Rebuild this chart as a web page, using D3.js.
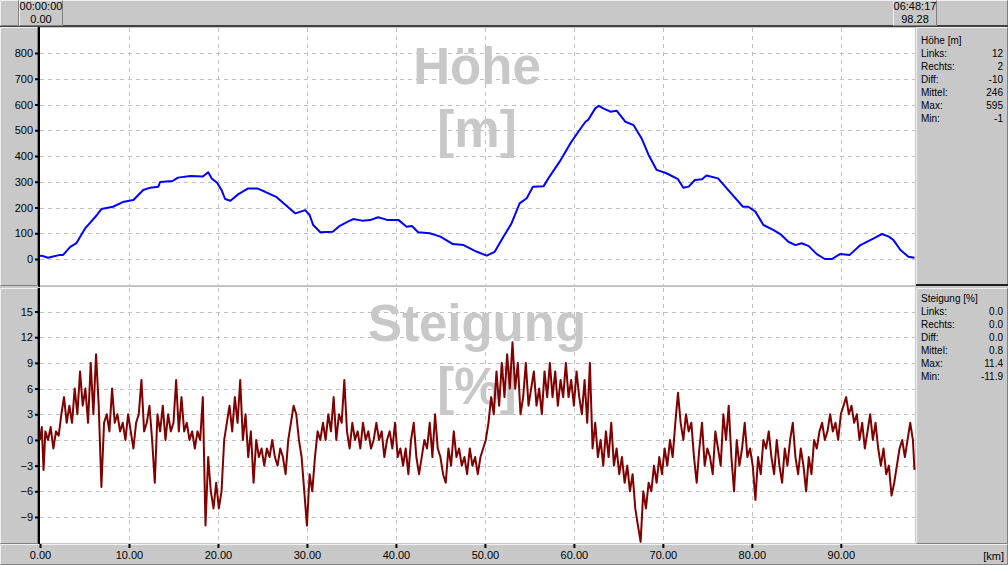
<!DOCTYPE html>
<html><head><meta charset="utf-8">
<script src="https://cdn.jsdelivr.net/npm/d3@7"></script>
<style>
html,body{margin:0;padding:0;background:#c8c8c8;}
svg{display:block;font-family:"Liberation Sans",Arial,sans-serif;}
</style></head><body>
<script>
// ---- data ----
const elevKm = [0,0.19,0.9,2.25,2.6,3.4,4.1,5.1,6.4,6.9,8.2,9.3,10.5,11.6,12.4,13.3,13.5,14.9,15.5,16.9,18.3,18.9,19.3,19.9,20.4,20.8,21.4,22.3,23.4,24.4,25.3,26.6,27.7,28.7,29.8,30.3,30.7,31.5,32.9,33.7,34.6,35.2,36.2,37.1,38.0,39.1,40.3,41.2,41.8,42.5,43.8,45.0,46.4,47.6,49.1,50.2,51.1,52.1,53.0,53.9,54.7,55.4,56.6,57.3,58.4,59.6,60.5,61.3,61.6,62.4,62.8,63.3,64.1,64.8,65.8,66.7,67.6,68.4,69.3,70.4,71.7,72.3,72.9,73.6,74.4,74.9,76.2,77.6,79.0,79.6,80.4,81.3,82.4,83.2,84.1,84.9,85.6,86.4,87.3,88.2,89.0,89.9,91.0,92.2,93.7,94.6,95.4,95.9,96.7,97.6,98.28];
const elevM = [12,13,5,16,16,47,62,120,171,194,203,221,229,268,277,281,299,303,316,322,320,337,313,296,268,233,226,252,274,274,261,240,207,177,190,171,132,104,106,129,145,155,149,151,162,151,151,125,128,104,100,87,58,54,28,13,28,87,139,216,236,281,283,322,378,449,494,533,540,585,595,585,572,576,533,520,469,404,346,333,310,277,281,307,310,324,313,258,203,203,184,132,113,97,67,54,61,50,19,0,0,19,16,54,80,97,87,74,35,9,5,2];

const gradKm = [0,0.2,0.4,0.6,0.9,1.2,1.5,1.8,2.1,2.4,2.7,3.0,3.3,3.6,3.9,4.2,4.5,4.8,5.1,5.4,5.7,6.0,6.3,6.6,6.9,7.2,7.5,7.8,8.1,8.4,8.7,9.0,9.3,9.6,9.9,10.2,10.5,10.8,11.1,11.4,11.7,12.0,12.3,12.6,12.9,13.2,13.5,13.8,14.1,14.4,14.7,15.0,15.3,15.6,15.9,16.2,16.5,16.8,17.1,17.4,17.7,18.0,18.3,18.6,18.9,19.2,19.5,19.8,20.1,20.4,20.7,21.0,21.3,21.6,21.9,22.2,22.5,22.8,23.1,23.4,23.7,24.0,24.3,24.6,24.9,25.2,25.5,25.8,26.1,26.4,26.7,27.0,27.3,27.6,27.9,28.2,28.5,28.8,29.1,29.4,29.7,30.0,30.3,30.6,30.9,31.2,31.5,31.8,32.1,32.4,32.7,33.0,33.3,33.6,33.9,34.2,34.5,34.8,35.1,35.4,35.7,36.0,36.3,36.6,36.9,37.2,37.5,37.8,38.1,38.4,38.7,39.0,39.3,39.6,39.9,40.2,40.5,40.8,41.1,41.4,41.7,42.0,42.3,42.6,42.9,43.2,43.5,43.8,44.1,44.4,44.7,45.0,45.3,45.6,45.9,46.2,46.5,46.8,47.1,47.4,47.7,48.0,48.3,48.6,48.9,49.2,49.5,49.8,50.1,50.4,50.7,51.0,51.3,51.6,51.9,52.2,52.5,52.8,53.1,53.4,53.7,54.0,54.3,54.6,54.9,55.2,55.5,55.8,56.1,56.4,56.7,57.0,57.3,57.6,57.9,58.2,58.5,58.8,59.1,59.4,59.7,60.0,60.3,60.6,60.9,61.2,61.5,61.8,62.1,62.4,62.7,63.0,63.3,63.6,63.9,64.2,64.5,64.8,65.1,65.4,65.7,66.0,66.3,66.6,66.9,67.2,67.5,67.8,68.1,68.4,68.7,69.0,69.3,69.6,69.9,70.2,70.5,70.8,71.1,71.4,71.7,72.0,72.3,72.6,72.9,73.2,73.5,73.8,74.1,74.4,74.7,75.0,75.3,75.6,75.9,76.2,76.5,76.8,77.1,77.4,77.7,78.0,78.3,78.6,78.9,79.2,79.5,79.8,80.1,80.4,80.7,81.0,81.3,81.6,81.9,82.2,82.5,82.8,83.1,83.4,83.7,84.0,84.3,84.6,84.9,85.2,85.5,85.8,86.1,86.4,86.7,87.0,87.3,87.6,87.9,88.2,88.5,88.8,89.1,89.4,89.7,90.0,90.3,90.6,90.9,91.2,91.5,91.8,92.1,92.4,92.7,93.0,93.3,93.6,93.9,94.2,94.5,94.8,95.1,95.4,95.7,96.0,96.3,96.6,96.9,97.2,97.5,97.8,98.1,98.28];
const gradPct = [0,1.5,-3.5,1,0,1.5,-1,1,0.5,3,5,2,4,2,6,3,8,4,6,2,9,3,10,4,-5.5,2,3,1,6,2,3,1,2,0,3,1,-1,2,3,7,1,2,4,0,-5,3,1,4,0,3,1,2,7,1,5,1,2,0,1,-1,1,0,5,-10,-2,-6,-8,-5,-8,-6,0,2,4,1,5,2,7,0,3,-2,1,-5,0,-2,-1,-3,-1,-2,0,-2,-3,-1,-2,-4,0,2,4,3,0,-2,-6,-10,-4,-6,-2,1,0,2,0,3,1,5,0,3,2,7,1,-1,2,0,1,-1,2,0,1,-1,0,2,0,1,-2,0,1,-1,2,-2,-1,-3,-1,-4,0,2,-2,-4,-2,0,-1,2,-2,3,-1,-2,-4,-5,-1,-3,1,-2,-1,-3,-2,-4,-1,-3,-2,-4,-2,-1,0,2,5,3,8,4,9,5,10,6,11.4,6,9,3,5,9,4,6,8,4,6,3,8,5,9,5,8,4,7,5,9,5,7,4,8,5,3,7,2,9,-1,2,-2,0,-3,1,-2,2,-3,-1,-4,-2,-5,-3,-6,-4,-8,-10,-11.9,-6,-8,-5,-6,-3,-5,-2,-4,-1,-3,0,-2,2,5.5,2,0,3,1,2,-2,-5,-1,2,-3,-1,-2,-4,1,-1,-3,3,0,4,-2,-6,0,-3,-1,2,-2,-1,-3,-7,-2,-4,0,-1,1,-2,-4,0,-3,-5,-1,-3,0,2,-2,-4,-1,-3,-6,-2,-4,0,-1,1,2,0,1,3,1,2,0,3,4,5,3,4,2,3,0,2,-1,1,3,0,2,-1,-3,-1,-4,-3,-6.5,-5,-3,-1,0,-2,0,2,0,-3.5];

const elevTicks = [0,100,200,300,400,500,600,700,800];
const gradTicks = [-9,-6,-3,0,3,6,9,12,15];
const kmTicks = [0,10,20,30,40,50,60,70,80,90];

const elevStats = [["Höhe [m]",""],["Links:","12"],["Rechts:","2"],["Diff:","-10"],["Mittel:","246"],["Max:","595"],["Min:","-1"]];
const gradStats = [["Steigung [%]",""],["Links:","0.0"],["Rechts:","0.0"],["Diff:","0.0"],["Mittel:","0.8"],["Max:","11.4"],["Min:","-11.9"]];

// ---- layout ----
const W=1008,H=565;
const PL=40, PR=915;
const top1=28, bot1=285, top2=288, bot2=543;
const svg=d3.select("body").append("svg").attr("width",W).attr("height",H);
const BG="#c8c8c8";

svg.append("rect").attr("width",W).attr("height",H).attr("fill",BG);

function bevel(x,y,w,h,raised=true){
  const g=svg.append("g");
  g.append("rect").attr("x",x).attr("y",y).attr("width",w).attr("height",h).attr("fill",BG);
  const lt=raised?"#f0f0f0":"#808080", dk=raised?"#808080":"#f0f0f0";
  g.append("path").attr("d",`M${x+0.5},${y+h-0.5}V${y+0.5}H${x+w-0.5}`).attr("stroke",lt).attr("fill","none");
  g.append("path").attr("d",`M${x+0.5},${y+h-0.5}H${x+w-0.5}V${y+0.5}`).attr("stroke",dk).attr("fill","none");
}

// top bar
bevel(0,0,W,26);
svg.append("rect").attr("x",0).attr("y",25).attr("width",W).attr("height",2).attr("fill","#404040");
bevel(0,0,19,26);
bevel(19,0,44,26);
bevel(893,0,44,26);

const x=d3.scaleLinear().domain([0,98.28]).range([PL,914.5]);
const yH=d3.scaleLinear().domain([0,800]).range([259,53]);
const yG=d3.scaleLinear().domain([-9,15]).range([517,311.5]);

const tf=d3.format(".2f");
svg.append("text").attr("x",41).attr("y",10).attr("text-anchor","middle").attr("font-size",11).text("00:00:00");
svg.append("text").attr("x",41).attr("y",23).attr("text-anchor","middle").attr("font-size",11).text(tf(0));
svg.append("text").attr("x",915).attr("y",10).attr("text-anchor","middle").attr("font-size",11).text("06:48:17");
svg.append("text").attr("x",915).attr("y",23).attr("text-anchor","middle").attr("font-size",11).text(tf(98.28));

// side panels
bevel(0,27,38,259); bevel(0,288,38,256);
bevel(916,27,92,259); bevel(916,288,92,256);
svg.append("rect").attr("x",916).attr("y",284).attr("width",92).attr("height",2).attr("fill","#202020");

// plot areas
svg.append("rect").attr("x",PL).attr("y",top1).attr("width",PR-PL).attr("height",bot1-top1).attr("fill","#fff");
svg.append("rect").attr("x",PL).attr("y",top2-1).attr("width",PR-PL).attr("height",bot2-top2+1).attr("fill","#fff");
svg.append("line").attr("x1",PL).attr("x2",PR).attr("y1",286.5).attr("y2",286.5).attr("stroke","#c0c0c0");

// grids
function grid(yScale,ticks,t,b){
  const g=svg.append("g").attr("stroke","#c0c0c0").attr("stroke-dasharray","4,4").attr("shape-rendering","crispEdges");
  ticks.forEach(v=>g.append("line").attr("x1",PL).attr("x2",PR).attr("y1",Math.round(yScale(v))+0.5).attr("y2",Math.round(yScale(v))+0.5));
  kmTicks.slice(1).forEach(v=>g.append("line").attr("x1",Math.round(x(v))+0.5).attr("x2",Math.round(x(v))+0.5).attr("y1",t).attr("y2",b));
}
grid(yH,elevTicks,top1,bot1);
grid(yG,gradTicks,top2,bot2);

// watermark titles
const wm={fill:"#c8c8c8","font-weight":"bold","font-size":51,"text-anchor":"middle"};
function wmText(t,xx,yy){const e=svg.append("text").attr("x",xx).attr("y",yy).text(t);Object.entries(wm).forEach(([k,v])=>e.attr(k,v));}
wmText("Höhe",477,84); wmText("[m]",477,147);
wmText("Steigung",477,341); wmText("[%]",477,404);

// axes
function yAxis(scale,ticks,fmt){
  const g=svg.append("g").attr("transform","translate(39,0)").call(d3.axisLeft(scale).tickValues(ticks).tickSize(4).tickSizeOuter(0).tickPadding(2).tickFormat(fmt));
  g.select(".domain").remove();
  g.selectAll("text").attr("font-size",11).attr("font-family","Liberation Sans, Arial, sans-serif").attr("fill","#000");
  g.selectAll("line").attr("stroke","#000").attr("stroke-width",2);
}
yAxis(yH,elevTicks,d3.format("d"));
yAxis(yG,gradTicks,d3.format("d"));
svg.append("rect").attr("x",38).attr("y",27).attr("width",2).attr("height",260).attr("fill","#000");
svg.append("rect").attr("x",38).attr("y",288).attr("width",2).attr("height",256).attr("fill","#000");

// x axis bar
bevel(0,544,W,21);
const gx=svg.append("g").attr("transform","translate(0,544)").call(d3.axisBottom(x).tickValues(kmTicks).tickSize(4).tickPadding(3).tickFormat(d3.format(".2f")));
gx.select(".domain").remove();
gx.selectAll("text").attr("font-size",11).attr("font-family","Liberation Sans, Arial, sans-serif").attr("fill","#000");
gx.selectAll("line").attr("stroke","#000").attr("stroke-width",2);
svg.append("text").attr("x",1004).attr("y",560).attr("text-anchor","end").attr("font-size",11).text("[km]");

// lines
const lineH=d3.line().x((d,i)=>x(elevKm[i])).y(d=>yH(d));
svg.append("path").attr("d",lineH(elevM)).attr("fill","none").attr("stroke","#0000ff").attr("stroke-width",2).attr("stroke-linejoin","round");
const lineG=d3.line().x((d,i)=>x(gradKm[i])).y(d=>yG(d));
svg.append("path").attr("d",lineG(gradPct)).attr("fill","none").attr("stroke","#800000").attr("stroke-width",2).attr("stroke-linejoin","round");

// stats
function stats(rows,y0){
  rows.forEach((r,i)=>{
    svg.append("text").attr("x",921).attr("y",y0+i*13).attr("font-size",10).text(r[0]);
    if(r[1]) svg.append("text").attr("x",1003).attr("y",y0+i*13).attr("font-size",10).attr("text-anchor","end").text(r[1]);
  });
}
stats(elevStats,44); stats(gradStats,302);
</script>
</body></html>
